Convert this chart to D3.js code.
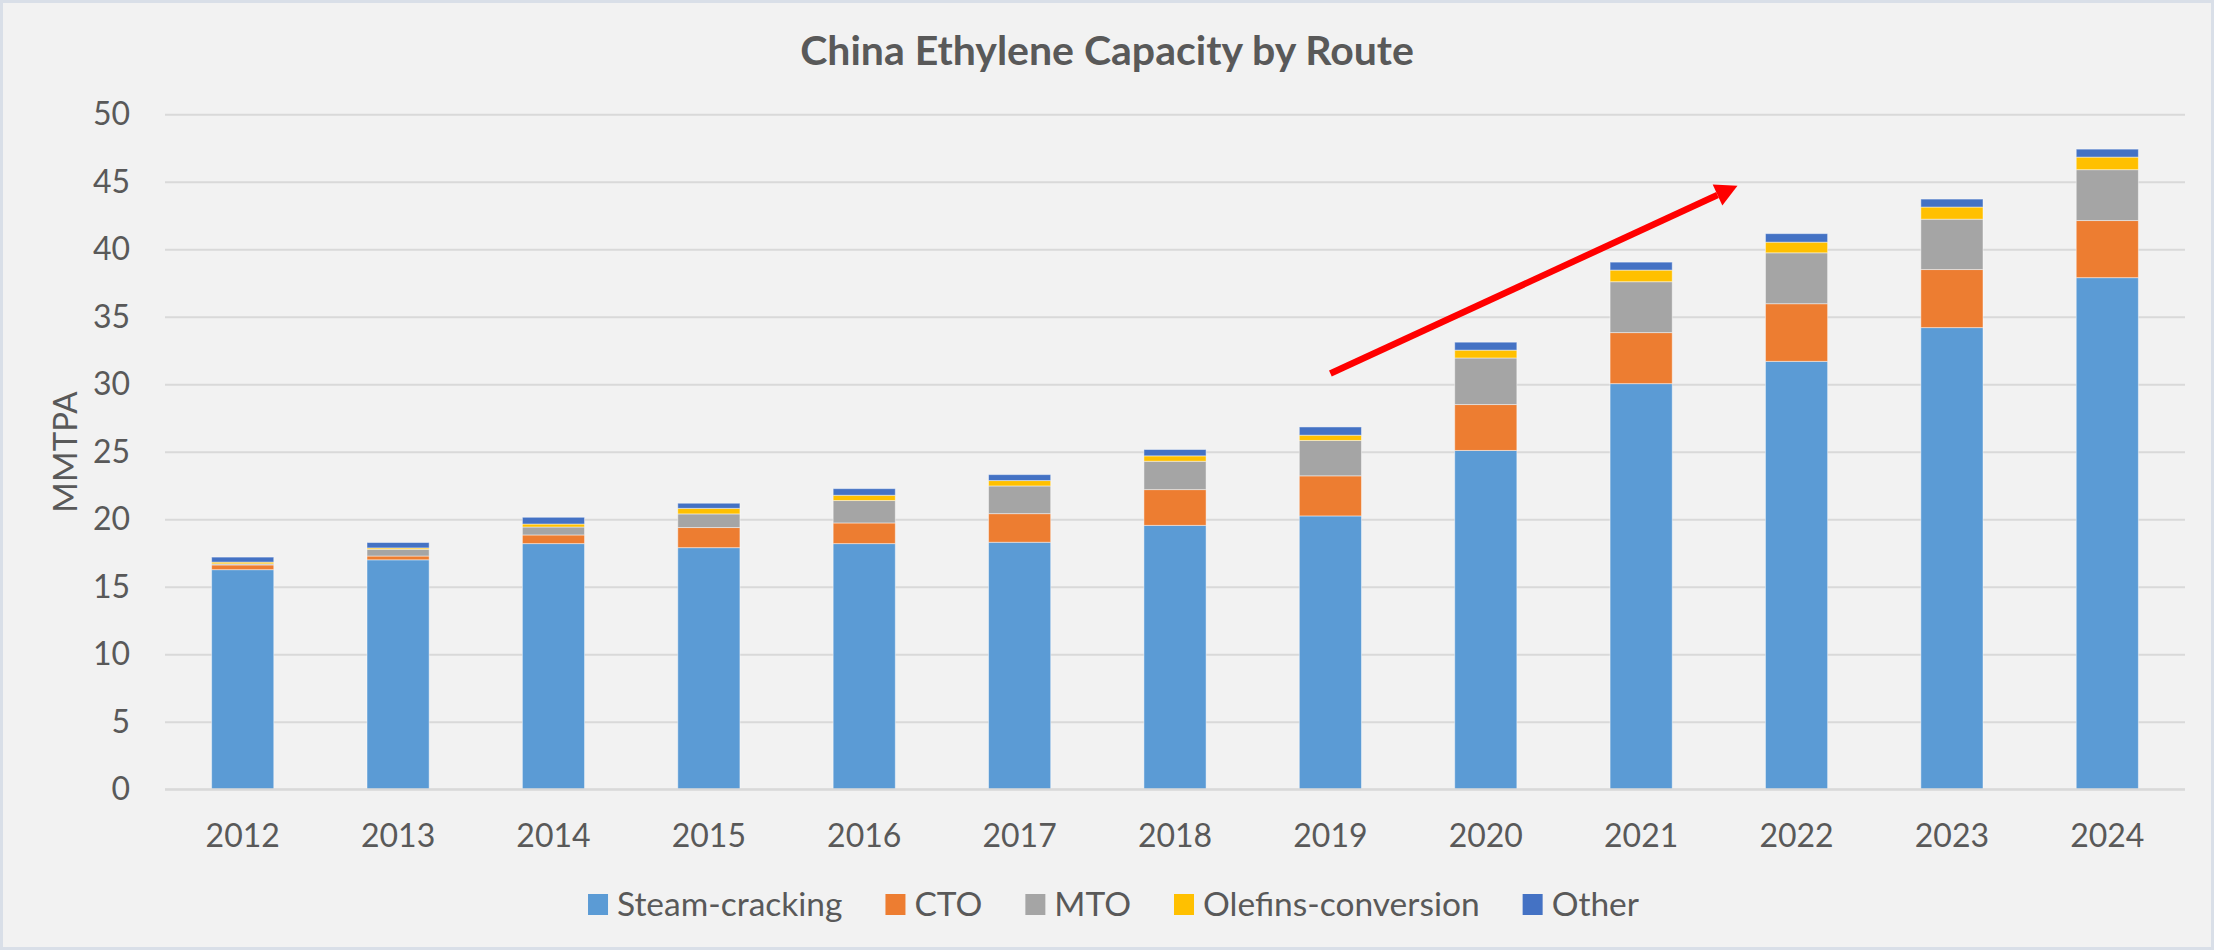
<!DOCTYPE html>
<html>
<head>
<meta charset="utf-8">
<script src="https://cdn.jsdelivr.net/npm/d3@7"></script>
<style>
  html, body { margin: 0; padding: 0; background: #f2f2f2; }
  svg { display: block; }
  text { font-family: Lato, "Open Sans", sans-serif; fill: #595959; }
</style>
</head>
<body>
<svg id="chart" width="2214" height="950"></svg>
<script>
// ---- data ----
const years = ["2012","2013","2014","2015","2016","2017","2018","2019","2020","2021","2022","2023","2024"];
const seriesNames = ["Steam-cracking","CTO","MTO","Olefins-conversion","Other"];
const steamCracking = [16.27, 17.0, 18.2, 17.9, 18.2, 18.3, 19.55, 20.25, 25.1, 30.05, 31.7, 34.2, 37.9];
const cto           = [0.35, 0.28, 0.64, 1.49, 1.53, 2.12, 2.65, 2.97, 3.4, 3.78, 4.27, 4.3, 4.23];
const mto           = [0.08, 0.5, 0.59, 1.01, 1.66, 2.05, 2.1, 2.62, 3.45, 3.77, 3.77, 3.73, 3.77];
const olefinsConv   = [0.13, 0.1, 0.22, 0.41, 0.39, 0.4, 0.4, 0.39, 0.58, 0.86, 0.79, 0.9, 0.93];
const other         = [0.37, 0.4, 0.5, 0.38, 0.49, 0.44, 0.47, 0.61, 0.59, 0.59, 0.63, 0.59, 0.59];
const yTicks = [0, 5, 10, 15, 20, 25, 30, 35, 40, 45, 50];
const colors = ["#5B9BD5", "#ED7D31", "#A5A5A5", "#FFC000", "#4472C4"];
const title = "China Ethylene Capacity by Route";
const yTitle = "MMTPA";
// trend arrow, in category-index / value units
const arrowFrom = { i: 7.5, v: 30.8 };
const arrowTo   = { i: 10.12, v: 44.7 };

// ---- layout ----
const W = 2214, H = 950;
const plot = { left: 165, right: 2185, top: 114.3, bottom: 789.3 };

const svg = d3.select("#chart");
svg.append("rect").attr("x", 1.5).attr("y", 1.5).attr("width", W - 3).attr("height", H - 3)
  .attr("fill", "#f2f2f2").attr("stroke", "#d9dfe8").attr("stroke-width", 3);

const x = d3.scaleBand().domain(years).range([plot.left, plot.right])
  .paddingInner(0.6).paddingOuter(0.3);
const xi = d3.scaleLinear().domain([0, years.length]).range([plot.left, plot.right]);
const y = d3.scaleLinear().domain([0, 50]).range([plot.bottom, plot.top]);

// gridlines
const grid = svg.append("g").attr("transform", `translate(${plot.left},0)`)
  .call(d3.axisLeft(y).tickValues(yTicks).tickSize(-(plot.right - plot.left)).tickFormat(""));
grid.select(".domain").remove();
grid.selectAll("line").attr("stroke", "#d9d9d9").attr("stroke-width", 2);

// y labels
const yAx = svg.append("g").attr("transform", `translate(130,0)`)
  .call(d3.axisLeft(y).tickValues(yTicks).tickSize(0).tickPadding(0));
yAx.select(".domain").remove();
yAx.selectAll("text").attr("font-size", 32).attr("fill", "#595959")
  .style("font-family", "Lato, 'Open Sans', sans-serif");

// stacked data
const table = years.map((yr, i) => ({
  year: yr,
  "Steam-cracking": steamCracking[i],
  "CTO": cto[i],
  "MTO": mto[i],
  "Olefins-conversion": olefinsConv[i],
  "Other": other[i]
}));
const stack = d3.stack().keys(seriesNames)(table);

svg.append("g").selectAll("g").data(stack).join("g")
  .attr("fill", (d, i) => colors[i])
  .selectAll("rect").data(d => d).join("rect")
  .attr("x", d => x(d.data.year))
  .attr("width", x.bandwidth())
  .attr("y", d => y(d[1]))
  .attr("height", d => y(d[0]) - y(d[1]))
  .attr("stroke", "rgba(255,255,255,0.45)")
  .attr("stroke-width", 1);

// x axis line on top of bars
svg.append("line").attr("x1", plot.left).attr("x2", plot.right)
  .attr("y1", y(0)).attr("y2", y(0)).attr("stroke", "#d9d9d9").attr("stroke-width", 2);

// x labels
const xAx = svg.append("g").attr("transform", `translate(0,${plot.bottom})`)
  .call(d3.axisBottom(x).tickSize(0).tickPadding(35));
xAx.select(".domain").remove();
xAx.selectAll("text").attr("font-size", 32).attr("fill", "#595959")
  .style("font-family", "Lato, 'Open Sans', sans-serif");

// title
svg.append("text").attr("x", 1107).attr("y", 65).attr("text-anchor", "middle")
  .attr("font-size", 41).attr("font-weight", "bold").text(title);

// y title
svg.append("text").attr("transform", `translate(77,452) rotate(-90)`)
  .attr("text-anchor", "middle").attr("font-size", 33).text(yTitle);

// arrow
const ax1 = xi(arrowFrom.i), ay1 = y(arrowFrom.v), ax2 = xi(arrowTo.i), ay2 = y(arrowTo.v);
const ang = Math.atan2(ay2 - ay1, ax2 - ax1);
const headLen = 22;
const bx = ax2 - Math.cos(ang) * headLen, by = ay2 - Math.sin(ang) * headLen;
svg.append("line")
  .attr("x1", ax1).attr("y1", ay1)
  .attr("x2", bx).attr("y2", by)
  .attr("stroke", "#FF0000").attr("stroke-width", 6.5);
const hw = 11.5;
svg.append("path")
  .attr("d", `M${ax2},${ay2} L${bx + Math.sin(ang) * hw},${by - Math.cos(ang) * hw} L${bx - Math.sin(ang) * hw},${by + Math.cos(ang) * hw} Z`)
  .attr("fill", "#FF0000");

// legend
const legend = svg.append("g");
let lx = 0;
seriesNames.forEach((name, i) => {
  const g = legend.append("g");
  g.append("rect").attr("x", 0).attr("y", -10.5).attr("width", 20).attr("height", 21).attr("fill", colors[i]);
  const t = g.append("text").attr("x", 29).attr("y", 0).attr("dy", "0.35em")
    .attr("font-size", 33.5).text(name);
  const w = 29 + t.node().getComputedTextLength();
  g.attr("transform", `translate(${lx},0)`);
  lx += w + 43;
});
const totalW = lx - 43;
legend.attr("transform", `translate(${1113.5 - totalW / 2},904.5)`);
</script>
</body>
</html>
